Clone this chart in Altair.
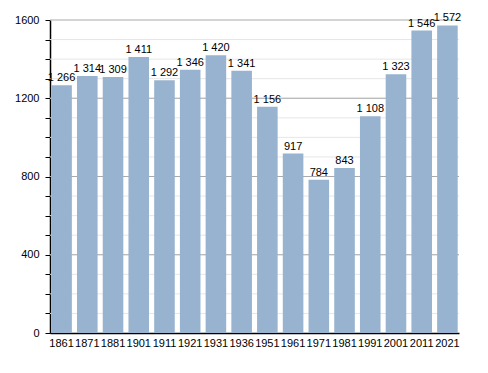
import altair as alt
import pandas as pd

years = ["1861", "1871", "1881", "1901", "1911", "1921", "1931", "1936", "1951",
         "1961", "1971", "1981", "1991", "2001", "2011", "2021"]
population = [1266, 1314, 1309, 1411, 1292, 1346, 1420, 1341, 1156,
              917, 784, 843, 1108, 1323, 1546, 1572]
minor_grid = list(range(100, 1600, 100))
major_grid = [400, 800, 1200, 1600]

df = pd.DataFrame({"year": years, "pop": population})
df["label"] = [f"{v:,}".replace(",", " ") for v in population]

font = "Liberation Sans"
yscale = alt.Scale(domain=[0, 1600], nice=False)
yaxis = alt.Axis(title=None, values=list(range(0, 1700, 100)), grid=False,
                 labelExpr="datum.value % 400 == 0 ? datum.value : ''",
                 labelFont=font, labelFontSize=11, labelColor="#000",
                 tickColor="#000", tickSize=5, labelPadding=6,
                 domainColor="#000", domainWidth=1.5)
xaxis = alt.Axis(title=None, ticks=False, labelAngle=0, labelFont=font,
                 labelFontSize=11, labelColor="#000", labelPadding=4,
                 domainColor="#000", domainWidth=1.5)
xscale = alt.Scale(paddingInner=0.2, paddingOuter=0.05)

minor = alt.Chart(pd.DataFrame({"v": minor_grid})).mark_rule(
    color="#e6e6e6", strokeWidth=1).encode(y=alt.Y("v:Q", scale=yscale, axis=yaxis))
major = alt.Chart(pd.DataFrame({"v": major_grid})).mark_rule(
    color="#aaaaaa", strokeWidth=1).encode(y=alt.Y("v:Q", scale=yscale, axis=yaxis))

bars = alt.Chart(df).mark_bar(color="#98b3cf").encode(
    x=alt.X("year:N", sort=None, scale=xscale, axis=xaxis),
    y=alt.Y("pop:Q", scale=yscale, axis=yaxis),
)
text = alt.Chart(df).mark_text(baseline="bottom", dy=-2, font=font, fontSize=11,
                               color="#000").encode(
    x=alt.X("year:N", sort=None, scale=xscale, axis=xaxis),
    y=alt.Y("pop:Q", scale=yscale, axis=yaxis), text="label:N")

chart = alt.layer(minor, major, bars, text).properties(
    width=409, height=313,
    autosize=alt.AutoSizeParams(type="none"),
    padding={"left": 42, "top": 12, "right": 20, "bottom": 30},
).configure_view(stroke=None)

chart.save("out.html", embed_options={"renderer": "svg", "actions": False})
